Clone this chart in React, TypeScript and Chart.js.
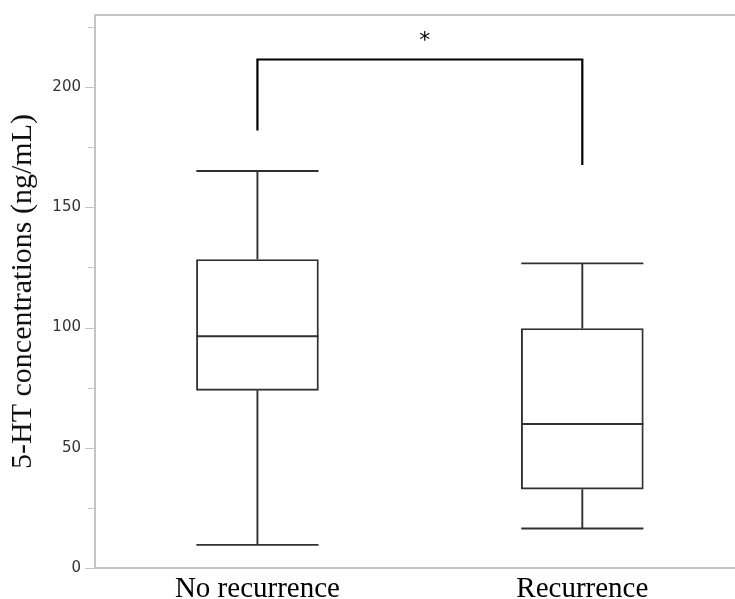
import React, { useEffect, useRef } from "react";
import { Chart, registerables } from "chart.js";

Chart.register(...registerables);

// ---- data ----
const categories = ["No recurrence", "Recurrence"];
const whiskerLow = [9.6, 16.4];
const q1 = [73.9, 32.8];
const median = [96.4, 59.9];
const q3 = [128.3, 99.6];
const whiskerHigh = [165.1, 126.7];

const yTickValues = [0, 25, 50, 75, 100, 125, 150, 175, 200, 225];
const yMajorStep = 50;
const yMax = 230;

// significance bracket (in data units)
const bracketFrom = [0, 1];
const bracketBottoms = [182, 167.6];
const bracketTop = 211.5;
const sigLabel = "*";
const sigLabelPos = { x: 0.515, y: 220.8 };

const AXIS_GRAY = "#c4c4c4";
const BOX_COLOR = "#303030";
const BOX_LINE = 1.9;
const BOX_UNITS = 0.376;

const boxPlugin = {
  id: "boxExtras",
  afterDatasetsDraw(chart: any) {
    const { ctx, scales } = chart;
    const xs = scales.x;
    const ys = scales.y;
    ctx.save();
    ctx.strokeStyle = BOX_COLOR;
    ctx.lineWidth = BOX_LINE;
    ctx.lineCap = "butt";
    categories.forEach((_, i) => {
      const cx = xs.getPixelForValue(i);
      const l = xs.getPixelForValue(i - BOX_UNITS / 2);
      const r = xs.getPixelForValue(i + BOX_UNITS / 2);
      const yMed = ys.getPixelForValue(median[i]);
      const yQ1 = ys.getPixelForValue(q1[i]);
      const yQ3 = ys.getPixelForValue(q3[i]);
      const yLo = ys.getPixelForValue(whiskerLow[i]);
      const yHi = ys.getPixelForValue(whiskerHigh[i]);
      ctx.beginPath();
      ctx.moveTo(l, yMed);
      ctx.lineTo(r, yMed);
      ctx.moveTo(cx, yQ3);
      ctx.lineTo(cx, yHi);
      ctx.moveTo(cx, yQ1);
      ctx.lineTo(cx, yLo);
      ctx.moveTo(l, yHi);
      ctx.lineTo(r, yHi);
      ctx.moveTo(l, yLo);
      ctx.lineTo(r, yLo);
      ctx.stroke();
    });

    // significance bracket
    ctx.strokeStyle = "#000";
    ctx.lineWidth = 2.2;
    ctx.beginPath();
    const xa = xs.getPixelForValue(bracketFrom[0]);
    const xb = xs.getPixelForValue(bracketFrom[1]);
    const yt = ys.getPixelForValue(bracketTop);
    ctx.moveTo(xa, ys.getPixelForValue(bracketBottoms[0]));
    ctx.lineTo(xa, yt);
    ctx.lineTo(xb, yt);
    ctx.lineTo(xb, ys.getPixelForValue(bracketBottoms[1]));
    ctx.stroke();

    ctx.fillStyle = "#000";
    ctx.font = "22px 'DejaVu Sans'";
    ctx.textAlign = "center";
    ctx.textBaseline = "middle";
    ctx.fillText(sigLabel, xs.getPixelForValue(sigLabelPos.x), ys.getPixelForValue(sigLabelPos.y) + 4);
    ctx.restore();
  },
  afterDraw(chart: any) {
    const { ctx, chartArea, scales } = chart;
    const ys = scales.y;
    ctx.save();
    ctx.strokeStyle = AXIS_GRAY;
    ctx.lineWidth = 2;
    ctx.beginPath();
    ctx.moveTo(chartArea.left - 1, chartArea.top);
    ctx.lineTo(chartArea.right, chartArea.top);
    ctx.stroke();
    ctx.lineWidth = 1.2;
    ctx.beginPath();
    yTickValues.forEach((v) => {
      const y = Math.round(ys.getPixelForValue(v)) + 0.5;
      const len = v % yMajorStep === 0 ? 9 : 6;
      ctx.moveTo(chartArea.left - 1 - len, y);
      ctx.lineTo(chartArea.left - 1, y);
    });
    ctx.stroke();
    ctx.restore();
  },
};

export default function App() {
  const canvasRef = useRef<HTMLCanvasElement | null>(null);

  useEffect(() => {
    if (!canvasRef.current) return;
    const chart = new Chart(canvasRef.current, {
      type: "bar",
      data: {
        datasets: [
          {
            label: "IQR",
            data: categories.map((_, i) => ({ x: i, y: [q1[i], q3[i]] })) as any,
            backgroundColor: "#ffffff",
            borderColor: BOX_COLOR,
            borderWidth: BOX_LINE,
            borderSkipped: false,
            barThickness: 122,
          },
        ],
      },
      options: {
        animation: false,
        responsive: true,
        maintainAspectRatio: false,
        layout: { padding: { top: 15, right: 0, bottom: 0, left: 0 } },
        plugins: {
          legend: { display: false },
          tooltip: { enabled: false },
        },
        scales: {
          x: {
            type: "linear",
            offset: false,
            min: -0.5,
            max: 1.47,
            afterBuildTicks: (scale: any) => {
              scale.ticks = categories.map((_, i) => ({ value: i }));
            },
            afterFit: (scale: any) => {
              scale.height = 31;
            },
            grid: { display: false, drawTicks: false, offset: false },
            border: { display: true, color: AXIS_GRAY, width: 2 },
            ticks: {
              maxRotation: 0,
              autoSkip: false,
              padding: 4,
              color: "#000",
              font: { family: "'Liberation Serif'", size: 29 },
              callback: (v: any) => categories[Math.round(Number(v))] ?? "",
            },
          },
          y: {
            type: "linear",
            min: 0,
            max: yMax,
            afterBuildTicks: (scale: any) => {
              scale.ticks = yTickValues.map((v) => ({ value: v }));
            },
            afterFit: (scale: any) => {
              scale.width = 95;
              scale.paddingTop = 0;
              scale.paddingBottom = 0;
            },
            grid: { display: false, drawTicks: false },
            border: { display: true, color: AXIS_GRAY, width: 2 },
            ticks: {
              padding: 14,
              color: "#333",
              font: { family: "'DejaVu Sans'", size: 15 },
              callback: (v: any) => (Number(v) % yMajorStep === 0 ? String(v) : ""),
            },
            title: {
              display: true,
              text: "5-HT concentrations (ng/mL)",
              color: "#111",
              font: { family: "'Liberation Serif'", size: 30 },
              padding: { top: 5, bottom: 0 },
            },
          },
        },
      },
      plugins: [boxPlugin],
    });
    return () => chart.destroy();
  }, []);

  return (
    <div style={{ position: "fixed", left: 0, top: 0, width: 735, height: 599, background: "#fff" }}>
      <canvas ref={canvasRef} />
    </div>
  );
}
